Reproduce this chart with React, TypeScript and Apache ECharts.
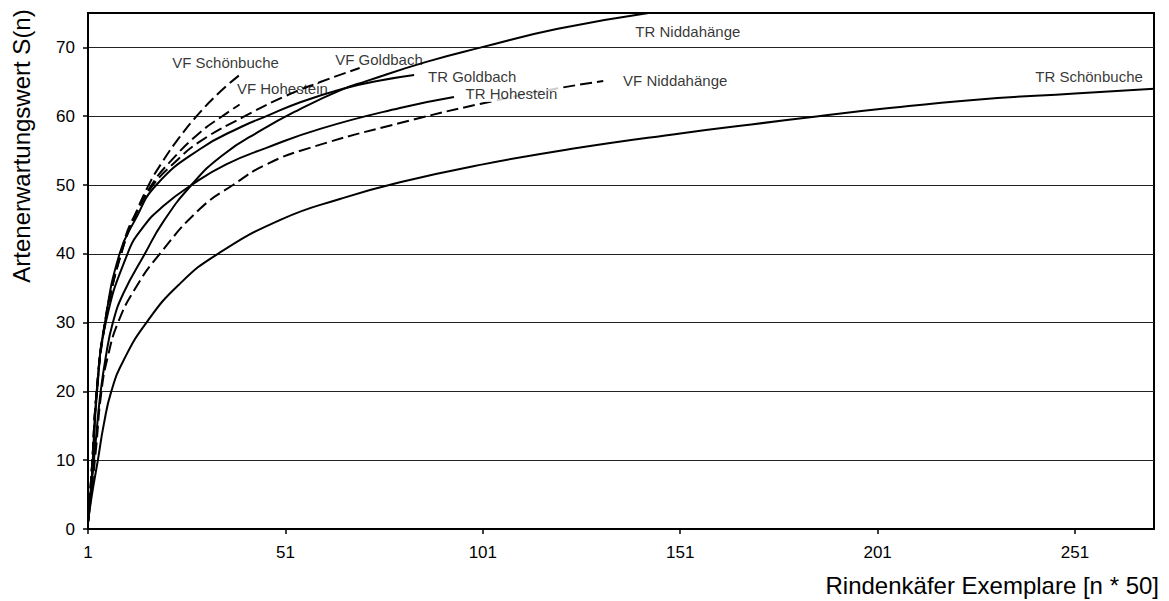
import React, { useEffect, useRef } from "react";
import * as echarts from "echarts";

// Axis ticks
const xTicks = [1, 51, 101, 151, 201, 251];
const yTicks = [0, 10, 20, 30, 40, 50, 60, 70];

// Rarefaction curves: [n, S(n)]
const trSchoenbuche = [[1, 1], [2, 5], [3.5, 10], [5, 15.2], [6.9, 20], [10, 24.5], [15.8, 30], [24, 35.5], [33.9, 40], [50, 45], [65, 48], [80, 50.4], [101, 53], [124, 55.3], [151, 57.5], [169, 58.8], [186, 60], [201, 61], [226, 62.4], [251, 63.3], [271, 64]];
const trNiddahaenge = [[1, 1], [2, 7], [3, 13], [4, 19], [5.5, 25], [7.3, 30], [10, 34.3], [15.4, 40], [20, 44.6], [27.2, 50], [35, 54.3], [45, 58], [54.6, 61], [65, 63.8], [71.5, 65.1], [86.7, 67.9], [100.6, 70], [120, 72.7], [143, 75]];
const trGoldbach = [[1, 1], [2, 8], [3.2, 20], [5.3, 30], [9, 40], [13, 45], [18.3, 50], [29.3, 55.2], [40, 58.5], [46.2, 60], [54.6, 62], [65.6, 64], [75, 65.2], [83.6, 66]];
const trHohestein = [[1, 1], [2, 7.5], [3.3, 20], [5.5, 30], [11, 40], [15, 43.9], [20, 46.9], [27.2, 50], [36, 53], [46.2, 55.4], [60, 58.2], [80, 61.2], [93.7, 62.8]];
const vfNiddahaenge = [[1, 1], [2, 6], [3, 11.5], [4.4, 20], [6, 25], [8.6, 30], [13, 35], [19.2, 40], [29.3, 46.5], [37.7, 50], [46.2, 53], [57.2, 55.4], [80, 59], [103.6, 62.2], [120.5, 64.1], [131.5, 65.1]];
const vfSchoenbuche = [[1, 1], [2, 9], [3.2, 20], [5.3, 30], [7, 35], [9.8, 40.8], [12.5, 45], [16.2, 49.8], [20, 53.5], [24, 56.8], [28.5, 60], [34, 63.3], [39.2, 65.9]];
const vfHohestein = [[1, 1], [2, 9], [3.2, 20], [5.3, 30], [9.9, 41], [13, 45.5], [17.1, 50], [22, 53.5], [29.3, 57.6], [35, 60], [39.4, 61.7]];
const vfGoldbach = [[1, 1], [2, 9], [3.2, 20], [5.4, 30], [10, 41.5], [13.2, 46], [17.5, 50], [23, 53.3], [29.3, 56.3], [40.7, 60], [51.3, 63], [60, 65], [69.8, 67]];

const curveNames = ["TR Schönbuche", "TR Niddahänge", "TR Goldbach", "TR Hohestein", "VF Niddahänge", "VF Schönbuche", "VF Hohestein", "VF Goldbach"];
const curveData = [trSchoenbuche, trNiddahaenge, trGoldbach, trHohestein, vfNiddahaenge, vfSchoenbuche, vfHohestein, vfGoldbach];
const curveDashed = [false, false, false, false, true, true, true, true];

// Where each curve's name is written (left edge, vertical centre) in data units
const labelAnchors = [[240.8, 65.7], [139.5, 72.3], [87.0, 65.7], [96.5, 63.3], [136.4, 65.2], [22.2, 67.8], [38.6, 64.0], [63.5, 68.3]];
const labelOpaque = [false, false, false, true, false, false, false, false];

const FONT = "'Liberation Sans', Arial, Helvetica, sans-serif";

export default function App() {
  const ref = useRef<HTMLDivElement>(null);

  useEffect(() => {
    const chart = echarts.init(ref.current!, null, { renderer: "svg" });

    const lineSeries = curveData.map((data, i) => ({
      type: "line",
      name: curveNames[i],
      data,
      showSymbol: false,
      symbol: "none",
      smooth: 0.5,
      silent: true,
      z: 2,
      lineStyle: {
        color: "#000",
        width: 2,
        type: curveDashed[i] ? [12, 5] : "solid",
      },
    }));

    const labelSeries = {
      type: "scatter",
      name: "labels",
      silent: true,
      z: 10,
      symbolSize: 1,
      itemStyle: { color: "rgba(0,0,0,0)" },
      data: labelAnchors.map((p, i) => ({
        value: p,
        name: curveNames[i],
        label: labelOpaque[i] ? { backgroundColor: "#fff", padding: [1, 2, 1, 0] } : undefined,
      })),
      label: {
        show: true,
        position: "right",
        distance: 0,
        formatter: "{b}",
        fontSize: 15,
        fontFamily: FONT,
        color: "#000",
      },
    };

    chart.setOption({
      animation: false,
      backgroundColor: "#fff",
      grid: {
        left: 88,
        right: 15,
        top: 13,
        bottom: 72,
        show: true,
        borderColor: "#000",
        borderWidth: 2,
        backgroundColor: "#fff",
      },
      xAxis: {
        type: "value",
        min: 1,
        max: 271,
        axisLine: { show: true, lineStyle: { color: "#000", width: 2 } },
        axisTick: { show: true, customValues: xTicks, length: 5, lineStyle: { color: "#000", width: 1.5 } },
        axisLabel: { customValues: xTicks, fontSize: 17, fontFamily: FONT, color: "#000", margin: 15 },
        splitLine: { show: false },
      },
      yAxis: {
        type: "value",
        min: 0,
        max: 75,
        interval: 10,
        axisLine: { show: true, lineStyle: { color: "#000", width: 2 } },
        axisTick: { show: true, customValues: yTicks, length: 5, lineStyle: { color: "#000", width: 1.5 } },
        axisLabel: { customValues: yTicks, fontSize: 17, fontFamily: FONT, color: "#000", margin: 13 },
        splitLine: { show: true, lineStyle: { color: "#222", width: 1 } },
      },
      graphic: [
        {
          type: "text",
          x: 21,
          y: 146,
          rotation: Math.PI / 2,
          style: {
            text: "Artenerwartungswert S(n)",
            fontSize: 24,
            fontFamily: FONT,
            fill: "#000",
            textAlign: "center",
            textVerticalAlign: "middle",
          },
        },
        {
          type: "text",
          x: 1159,
          y: 585,
          style: {
            text: "Rindenkäfer Exemplare [n * 50]",
            fontSize: 24,
            fontFamily: FONT,
            fill: "#000",
            textAlign: "right",
            textVerticalAlign: "middle",
          },
        },
      ],
      series: [...lineSeries, labelSeries],
    });

    return () => chart.dispose();
  }, []);

  return (
    <div
      ref={ref}
      style={{ position: "fixed", left: 0, top: 0, width: 1169, height: 601, background: "#fff" }}
    />
  );
}
